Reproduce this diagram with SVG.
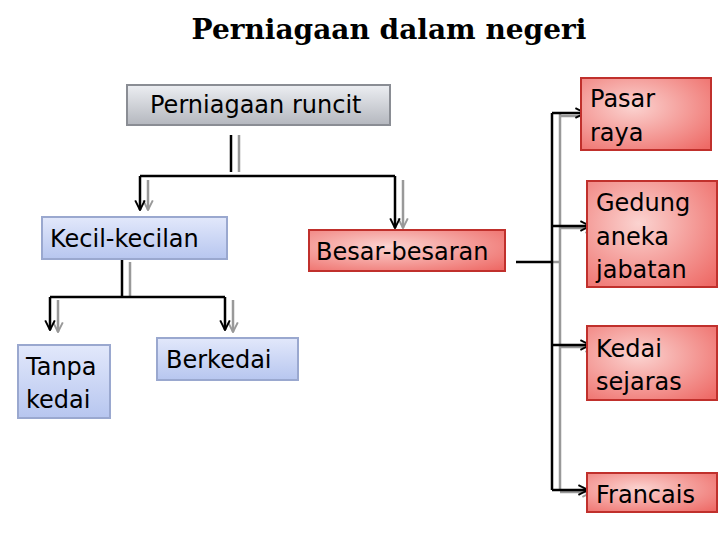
<svg xmlns="http://www.w3.org/2000/svg" width="728" height="546" viewBox="0 0 728 546">
<defs>
<linearGradient id="gg" x1="0" y1="0" x2="0" y2="1"><stop offset="0" stop-color="#eceef2"/><stop offset="1" stop-color="#b4b7be"/></linearGradient>
<linearGradient id="bg" x1="0" y1="0" x2="0" y2="1"><stop offset="0" stop-color="#e2e8fb"/><stop offset="1" stop-color="#b7c6ef"/></linearGradient>
<radialGradient id="rg" cx="0.4" cy="0.4" r="0.8"><stop offset="0" stop-color="#fbd3d0"/><stop offset="1" stop-color="#ee6a66"/></radialGradient>
<marker id="a" viewBox="0 0 10 10" refX="9" refY="5" markerWidth="12" markerHeight="12" markerUnits="userSpaceOnUse" orient="auto"><path d="M1 1 L9 5 L1 9" fill="none" stroke="#000" stroke-width="1.6"/></marker>
<marker id="s" viewBox="0 0 10 10" refX="9" refY="5" markerWidth="12" markerHeight="12" markerUnits="userSpaceOnUse" orient="auto"><path d="M1 1 L9 5 L1 9" fill="none" stroke="#999" stroke-width="1.6"/></marker>
</defs>
<style>
text{font-family:"DejaVu Sans",sans-serif;font-size:24px;fill:#000}
.g{fill:url(#gg);stroke:#8a8d94;stroke-width:2}
.b{fill:url(#bg);stroke:#9aa8cf;stroke-width:2}
.r{fill:url(#rg);stroke:#c0302c;stroke-width:2}
.k{fill:none;stroke:#000;stroke-width:2.5}
.h{fill:none;stroke:#999;stroke-width:2.5}
</style>
<text x="389" y="39" text-anchor="middle" style="font-family:'DejaVu Serif',serif;font-weight:bold;font-size:28px">Perniagaan dalam negeri</text>
<g id="connectors">
<path class="h" d="M239 135V172 M130 262V297 M560 113V490"/>
<path class="h" d="M148 180V210" marker-end="url(#s)"/>
<path class="h" d="M403 180V228" marker-end="url(#s)"/>
<path class="h" d="M58 300V332" marker-end="url(#s)"/>
<path class="h" d="M233 300V332" marker-end="url(#s)"/>
<path class="h" d="M560 116H590" marker-end="url(#s)"/>
<path class="h" d="M560 228H595" marker-end="url(#s)"/>
<path class="h" d="M560 347H595" marker-end="url(#s)"/>
<path class="h" d="M560 492H592" marker-end="url(#s)"/>
<path class="h" d="M552 262H560"/>
<path class="k" d="M231 135V172 M140 176H395 M122 260V297 M50 297H225 M516 262H552 M552 113V490"/>
<path class="k" d="M140 176V210" marker-end="url(#a)"/>
<path class="k" d="M395 176V228" marker-end="url(#a)"/>
<path class="k" d="M50 297V330" marker-end="url(#a)"/>
<path class="k" d="M225 297V330" marker-end="url(#a)"/>
<path class="k" d="M552 113H585" marker-end="url(#a)"/>
<path class="k" d="M552 226H590" marker-end="url(#a)"/>
<path class="k" d="M552 345H590" marker-end="url(#a)"/>
<path class="k" d="M552 490H588" marker-end="url(#a)"/>
</g>
<g id="n1"><rect class="g" x="127" y="85" width="263" height="40"/><text x="150" y="113">Perniagaan runcit</text></g>
<g id="n2"><rect class="b" x="42" y="217" width="185" height="42"/><text x="50" y="247">Kecil-kecilan</text></g>
<g id="n3"><rect class="r" x="309" y="230" width="196" height="41"/><text x="316" y="260">Besar-besaran</text></g>
<g id="n4"><rect class="b" x="18" y="345" width="92" height="73"/><text x="26" y="375">Tanpa</text><text x="26" y="408">kedai</text></g>
<g id="n5"><rect class="b" x="157" y="338" width="141" height="42"/><text x="166" y="368">Berkedai</text></g>
<g id="n6"><rect class="r" x="581" y="78" width="130" height="72"/><text x="590" y="107">Pasar</text><text x="590" y="141">raya</text></g>
<g id="n7"><rect class="r" x="587" y="181" width="130" height="106"/><text x="596" y="211">Gedung</text><text x="596" y="245">aneka</text><text x="596" y="278">jabatan</text></g>
<g id="n8"><rect class="r" x="587" y="326" width="130" height="74"/><text x="596" y="357">Kedai</text><text x="596" y="390">sejaras</text></g>
<g id="n9"><rect class="r" x="587" y="473" width="130" height="39"/><text x="596" y="503">Francais</text></g>
</svg>
